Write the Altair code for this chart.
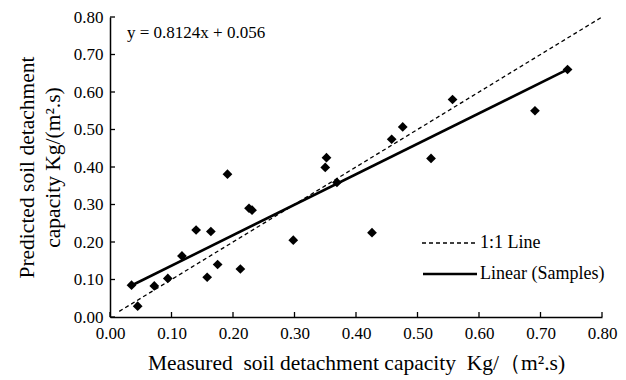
import altair as alt
import pandas as pd

# Data
measured = [0.035, 0.045, 0.072, 0.094, 0.117, 0.140, 0.158, 0.164, 0.175, 0.191, 0.212, 0.226,
            0.231, 0.298, 0.350, 0.352, 0.369, 0.426, 0.458, 0.476, 0.522, 0.557, 0.691, 0.744]
predicted = [0.085, 0.029, 0.083, 0.103, 0.163, 0.232, 0.106, 0.228, 0.140, 0.381, 0.128, 0.290,
             0.285, 0.205, 0.399, 0.425, 0.359, 0.225, 0.474, 0.507, 0.423, 0.580, 0.550, 0.660]
tick_values = [0.0, 0.1, 0.2, 0.3, 0.4, 0.5, 0.6, 0.7, 0.8]
fit_x = [0.035, 0.745]
fit_y = [0.084, 0.661]
one_x = [0.015, 0.80]
one_y = [0.015, 0.80]
equation = "y = 0.8124x + 0.056"
legend_labels = ["1:1 Line", "Linear (Samples)"]

FONT = "Liberation Serif"
W, H = 492, 300

pts = pd.DataFrame({"m": measured, "p": predicted})
fit = pd.DataFrame({"m": fit_x, "p": fit_y})
one = pd.DataFrame({"m": one_x, "p": one_y})
ticks = pd.DataFrame({"m": tick_values, "p": tick_values})

xs = alt.Scale(domain=[0, 0.8], nice=False)
ys = alt.Scale(domain=[0, 0.8], nice=False)

x_axis = alt.Axis(values=tick_values, format=".2f", grid=False, ticks=False,
                  domainColor="black", domainWidth=1.5, labelFont=FONT, labelFontSize=17,
                  labelColor="black", labelPadding=8, labelFlush=False, labelOverlap=False,
                  title="Measured\u00a0 soil detachment capacity\u00a0 Kg/\uff08m\u00b2.s)",
                  titleFont=FONT, titleFontSize=21.5, titleFontWeight="normal",
                  titleColor="black", titlePadding=11)
y_axis = alt.Axis(values=tick_values, format=".2f", grid=False, ticks=False,
                  domainColor="black", domainWidth=1.5, labelFont=FONT, labelFontSize=17,
                  labelColor="black", labelPadding=7, labelOverlap=False,
                  title=["Predicted soil detachment", "capacity Kg/(m\u00b2.s)"],
                  titleFont=FONT, titleFontSize=21.5, titleFontWeight="normal",
                  titleColor="black", titleAngle=-90, titleAlign="center",
                  titleBaseline="top", titleX=-94, titleY=H / 2, titleLineHeight=26)

X = alt.X("m:Q", scale=xs, axis=x_axis)
Y = alt.Y("p:Q", scale=ys, axis=y_axis)

points = alt.Chart(pts).mark_point(shape="diamond", filled=True, color="black",
                                   size=95, opacity=1).encode(x=X, y=Y)

one_line = alt.Chart(one).mark_line(color="black", strokeWidth=1.3, strokeDash=[4, 3]).encode(
    x=X, y=Y)
fit_line = alt.Chart(fit).mark_line(color="black", strokeWidth=2.6).encode(x=X, y=Y)

xticks = alt.Chart(ticks).mark_rule(color="black", strokeWidth=1.3).encode(
    x=X, y=alt.value(H), y2=alt.value(H - 5))
yticks = alt.Chart(ticks).mark_rule(color="black", strokeWidth=1.3).encode(
    y=Y, x=alt.value(0), x2=alt.value(5))

eq_text = alt.Chart(pd.DataFrame({"t": [equation]})).mark_text(
    font=FONT, fontSize=17, align="left", baseline="middle", color="black").encode(
    text="t:N", x=alt.value(17), y=alt.value(16))

leg = pd.DataFrame({"label": legend_labels})
leg_dash = alt.Chart(leg.iloc[[0]]).mark_rule(color="black", strokeWidth=1.3, strokeDash=[4, 3]).encode(
    x=alt.value(312), x2=alt.value(366), y=alt.value(226))
leg_solid = alt.Chart(leg.iloc[[1]]).mark_rule(color="black", strokeWidth=2.6).encode(
    x=alt.value(313), x2=alt.value(367), y=alt.value(257))
leg_text1 = alt.Chart(leg.iloc[[0]]).mark_text(
    font=FONT, fontSize=18, align="left", baseline="middle", color="black").encode(
    text="label:N", x=alt.value(370), y=alt.value(226))
leg_text2 = alt.Chart(leg.iloc[[1]]).mark_text(
    font=FONT, fontSize=18, align="left", baseline="middle", color="black").encode(
    text="label:N", x=alt.value(370), y=alt.value(257))

chart = alt.layer(points, one_line, fit_line, xticks, yticks, eq_text,
                  leg_dash, leg_solid, leg_text1, leg_text2).properties(
    width=W, height=H,
    autosize=alt.AutoSizeParams(type="none"),
    padding={"left": 110, "top": 17, "right": 24, "bottom": 63},
    background="white",
).configure_view(stroke=None)

chart.save("out.html", embed_options={"renderer": "svg", "actions": False})
